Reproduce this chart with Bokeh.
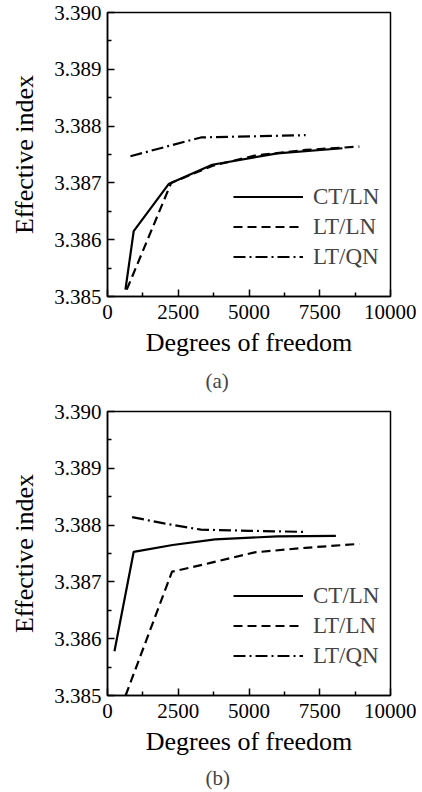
from bokeh.plotting import figure
from bokeh.layouts import column
from bokeh.models import (Range1d, FixedTicker, PrintfTickFormatter, Legend,
                          LegendItem, Title)
from bokeh.embed import file_html
from bokeh.resources import INLINE

# ---------------- data ----------------
x_ticks = [0, 2500, 5000, 7500, 10000]
x_minor = [1250, 3750, 6250, 8750]
y_ticks = [3.385, 3.386, 3.387, 3.388, 3.389, 3.390]
y_minor = [3.3855, 3.3865, 3.3875, 3.3885, 3.3895]
series_names = ["CT/LN", "LT/LN", "LT/QN"]

# panel (a)
a_ct_x = [634, 926, 2160, 3700, 6000, 8300]
a_ct_y = [3.38512, 3.38615, 3.38698, 3.38732, 3.38752, 3.38761]
a_lt_x = [680, 2250, 3700, 5200, 7000, 8900]
a_lt_y = [3.38512, 3.38700, 3.38730, 3.38748, 3.38758, 3.38764]
a_qn_x = [810, 3300, 5100, 7000]
a_qn_y = [3.38747, 3.38780, 3.38782, 3.38784]

# panel (b)
b_ct_x = [246, 926, 2300, 3800, 6000, 8070]
b_ct_y = [3.38578, 3.38753, 3.38765, 3.38775, 3.38780, 3.38781]
b_lt_x = [640, 2280, 3600, 5200, 7000, 8900]
b_lt_y = [3.38500, 3.38718, 3.38733, 3.38752, 3.38760, 3.38767]
b_qn_x = [870, 2000, 3300, 5000, 7000]
b_qn_y = [3.38814, 3.38803, 3.38792, 3.38790, 3.38788]

FONT = "Liberation Serif"
DASHES = ["solid", "9 5", "12 4 2 4"]


def make_panel(series, caption, top, cap_standoff):
    p = figure(output_backend="svg", toolbar_location=None,
               frame_width=283, frame_height=284,
               x_range=Range1d(0, 10000), y_range=Range1d(3.385, 3.390),
               min_border_left=107, min_border_right=26,
               min_border_top=top, min_border_bottom=0)
    p.grid.visible = False
    p.outline_line_color = "black"
    p.outline_line_width = 1.5
    p.background_fill_color = "white"
    p.border_fill_color = "white"

    p.axis.axis_line_width = 1.5
    p.axis.axis_line_color = "black"
    p.axis.major_tick_in = 7
    p.axis.major_tick_out = 0
    p.axis.minor_tick_in = 4
    p.axis.minor_tick_out = 0
    p.axis.major_tick_line_width = 1.5
    p.axis.minor_tick_line_width = 1.5
    p.axis.major_label_text_font = FONT
    p.axis.major_label_text_font_size = "21px"
    p.axis.major_label_text_font_style = "normal"
    p.axis.major_label_text_color = "black"
    p.axis.axis_label_text_font = FONT
    p.axis.axis_label_text_font_size = "26px"
    p.axis.axis_label_text_font_style = "normal"
    p.axis.axis_label_text_color = "black"

    p.xaxis.ticker = FixedTicker(ticks=x_ticks, minor_ticks=x_minor)
    p.xaxis.formatter = PrintfTickFormatter(format="%d")
    p.xaxis.axis_label = "Degrees of freedom"
    p.xaxis.major_label_standoff = 8
    p.xaxis.axis_label_standoff = 6

    p.yaxis.ticker = FixedTicker(ticks=y_ticks, minor_ticks=y_minor)
    p.yaxis.formatter = PrintfTickFormatter(format="%.3f")
    p.yaxis.axis_label = "Effective index"
    p.yaxis.major_label_standoff = 6
    p.yaxis.axis_label_standoff = 12

    items = []
    for (xs, ys), name, dash in zip(series, series_names, DASHES):
        r = p.line(xs, ys, line_color="black", line_width=2.2, line_dash=dash)
        items.append(LegendItem(label=name, renderers=[r]))

    leg = Legend(items=items, location=(126, 26), background_fill_alpha=0,
                 border_line_alpha=0, padding=0, margin=0, spacing=3,
                 glyph_width=70, glyph_height=27, label_height=27,
                 label_standoff=10, label_text_font=FONT,
                 label_text_font_size="23px")
    p.add_layout(leg)

    t = Title(text=caption, align="left", text_font=FONT,
              text_font_size="21px", text_font_style="normal",
              standoff=cap_standoff, offset=98)
    p.add_layout(t, "below")
    return p


p1 = make_panel([(a_ct_x, a_ct_y), (a_lt_x, a_lt_y), (a_qn_x, a_qn_y)],
                "(a)", 12, 14)
p2 = make_panel([(b_ct_x, b_ct_y), (b_lt_x, b_lt_y), (b_qn_x, b_qn_y)],
                "(b)", 12, 10)

layout = column(p1, p2, spacing=0)
open("out.html", "w").write(file_html(layout, INLINE))
